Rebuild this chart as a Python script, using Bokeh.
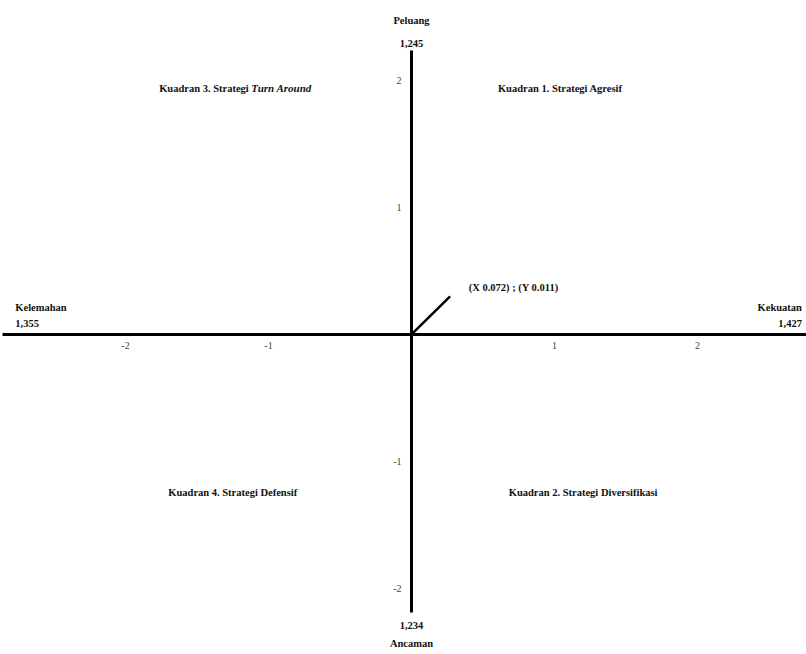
from bokeh.plotting import figure
from bokeh.models import FixedTicker, Range1d, Label
from bokeh.embed import file_html
from bokeh.resources import INLINE

# ---- data ----
x_ticks = [-2, -1, 1, 2]
y_ticks = [-2, -1, 1, 2]
x_tick_labels = {-2: "-2", -1: "-1", 1: "1", 2: "2"}
y_tick_labels = {-2: "-2", -1: "-1", 1: "1", 2: "2"}
score_x = 0.072          # Kekuatan - Kelemahan
score_y = 0.011          # Peluang - Ancaman
pointer_x = [0, 0.27]    # drawn pointer segment (as in picture)
pointer_y = [0, 0.30]
kekuatan = "1,427"
kelemahan = "1,355"
peluang = "1,245"
ancaman = "1,234"
quadrants = ["Kuadran 1. Strategi Agresif", "Kuadran 2. Strategi Diversifikasi",
             "Kuadran 3. Strategi ", "Turn Around", "Kuadran 4. Strategi Defensif"]

W, H = 806, 654
p = figure(width=W, height=H, output_backend="svg", toolbar_location=None,
           x_range=Range1d(-2.874, 2.762), y_range=Range1d(-2.520, 2.630),
           min_border=0, min_border_left=0, min_border_right=0,
           min_border_top=0, min_border_bottom=0)
p.grid.visible = False
p.outline_line_color = None
p.background_fill_color = "white"
p.border_fill_color = "white"

FONT = "Liberation Serif"

for ax, ticks, labels, bnds in ((p.xaxis[0], x_ticks, x_tick_labels, (-2.86, 2.762)),
                                (p.yaxis[0], y_ticks, y_tick_labels, (-2.19, 2.236))):
    ax.fixed_location = 0
    ax.ticker = FixedTicker(ticks=ticks)
    ax.major_label_overrides = labels
    ax.axis_line_width = 3
    ax.axis_line_color = "black"
    ax.major_tick_line_color = None
    ax.minor_tick_line_color = None
    ax.major_label_text_font = FONT
    ax.major_label_text_font_size = "10px"
    ax.major_label_text_color = "#444444"
    ax.bounds = bnds
p.xaxis.major_label_standoff = 2
p.yaxis.major_label_standoff = 4

# pointer line to the score
p.line(pointer_x, pointer_y, line_width=2.5, line_color="black")

def lab(x, y, text, align="center", baseline="middle", style="bold", size="10.5px"):
    p.add_layout(Label(x=x, y=y, text=text, text_font=FONT, text_font_size=size,
                       text_font_style=style, text_align=align, text_baseline=baseline,
                       text_color="#111111"))

lab(0.40, 0.37, f"(X {score_x}) ; (Y {score_y})", align="left")

# axis end labels
lab(0, 2.47, "Peluang")
lab(0, 2.29, peluang)
lab(0, -2.29, ancaman)
lab(0, -2.43, "Ancaman")
lab(-2.77, 0.21, "Kelemahan", align="left")
lab(-2.77, 0.09, kelemahan, align="left")
lab(2.73, 0.21, "Kekuatan", align="right")
lab(2.73, 0.09, kekuatan, align="right")

# quadrant labels
lab(1.04, 1.94, quadrants[0])
lab(1.20, -1.244, quadrants[1])
lab(-1.12, 1.94, quadrants[2], align="right")
lab(-1.12, 1.94, quadrants[3], align="left", style="bold italic", size="11px")
lab(-1.25, -1.244, quadrants[4])

open("out.html", "w").write(file_html(p, INLINE))
